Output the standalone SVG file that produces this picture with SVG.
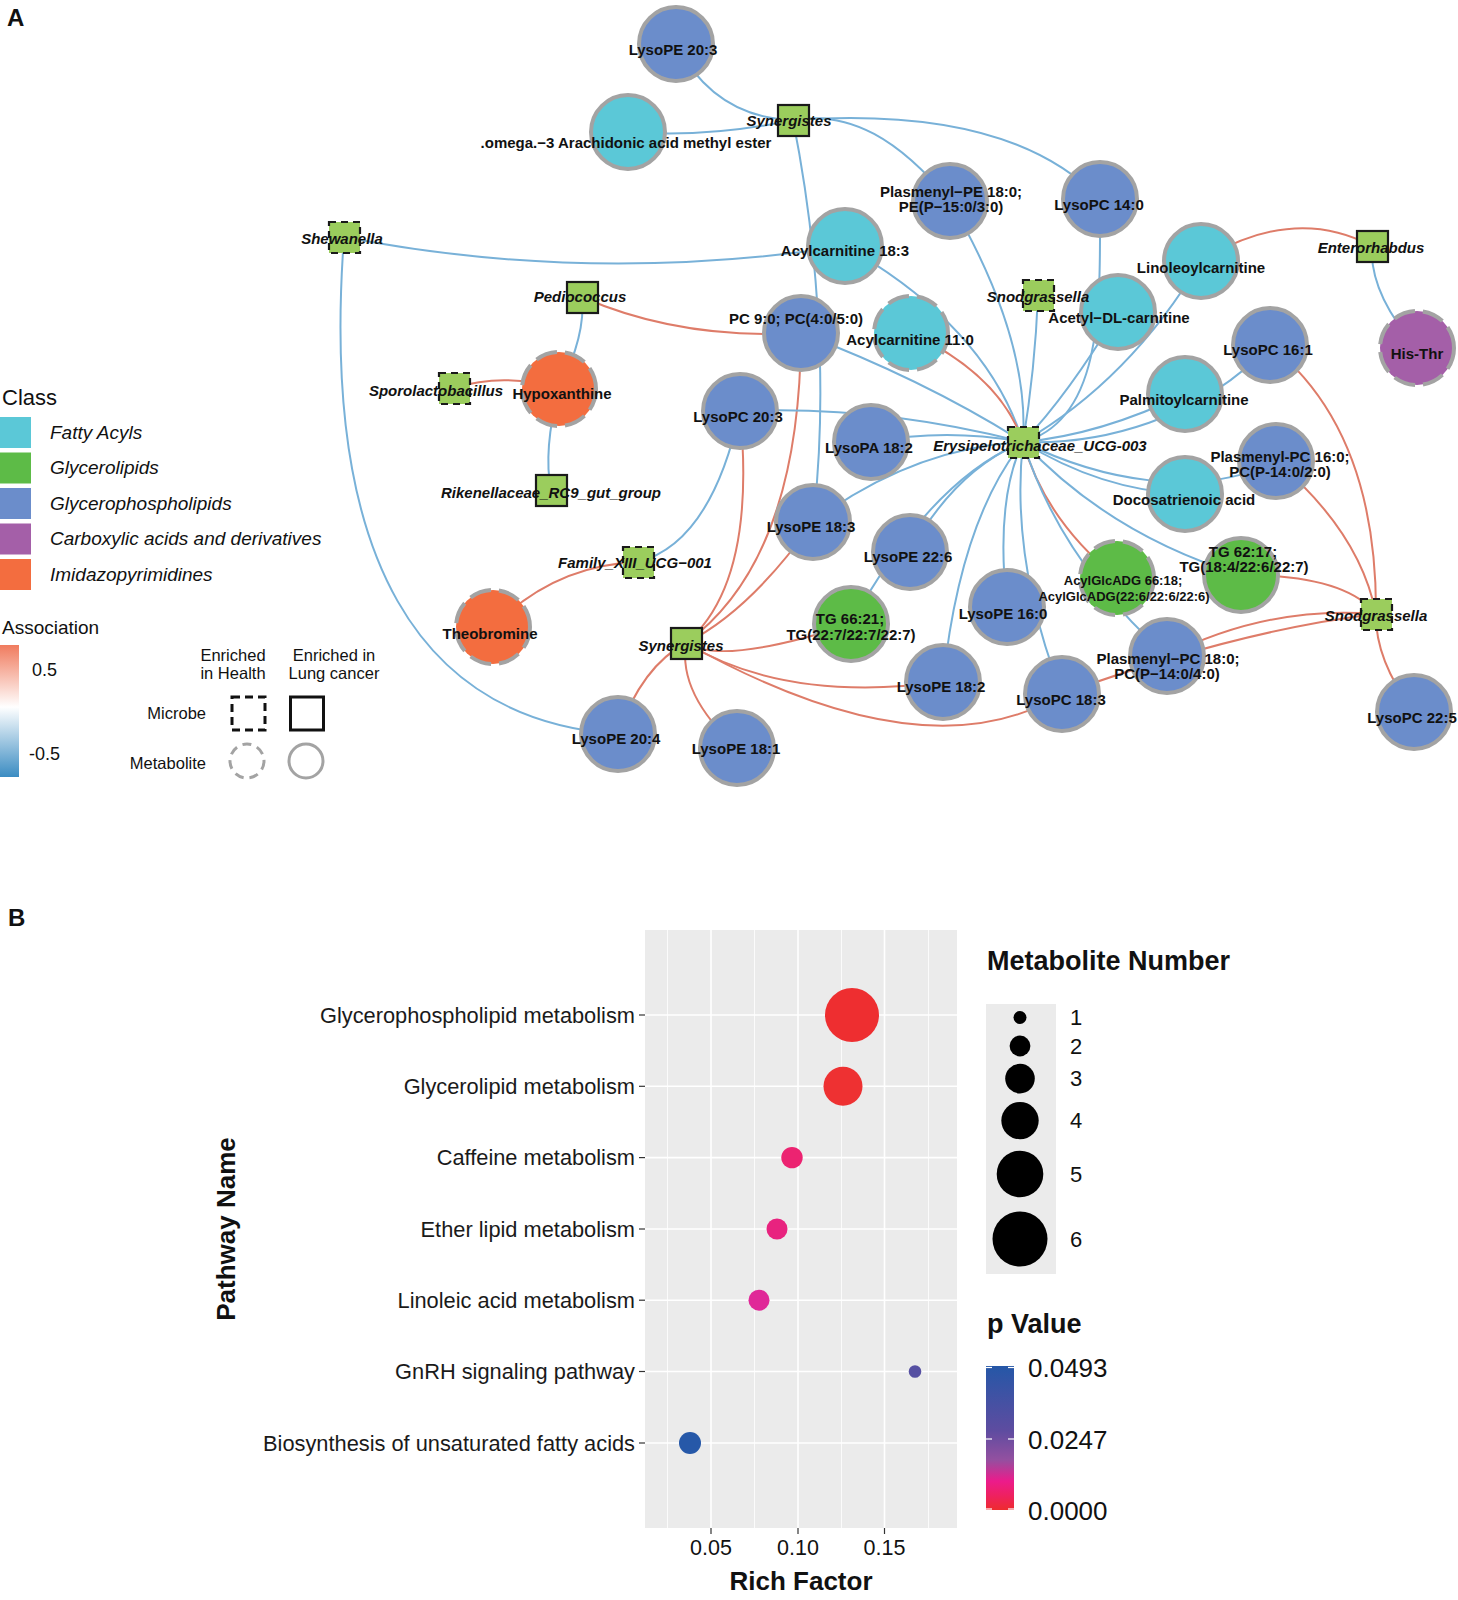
<svg xmlns="http://www.w3.org/2000/svg" width="1458" height="1600" viewBox="0 0 1458 1600">
<defs>
<style>
.eb{fill:none;stroke:#78B1D8;stroke-width:2}
.er{fill:none;stroke:#DE7C69;stroke-width:2}
.m{stroke:#A3A3A3;stroke-width:4}
.md{stroke-dasharray:22 8}
.fa{fill:#5BC8D7}.gl{fill:#5DBB47}.gp{fill:#6B8DCB}.ca{fill:#A45FA8}.im{fill:#F36D3F}
.mic{fill:#9BCD5D;stroke:#1a1a1a;stroke-width:2.2}
.micd{stroke-dasharray:7 5}
.lb{font-family:"Liberation Sans",Arial,sans-serif;font-weight:bold;font-size:15px;text-anchor:middle;fill:#111}
.li{font-style:italic}
.ls{font-size:13px}
.lg{font-family:"Liberation Sans",Arial,sans-serif;fill:#111}
.pl{font-family:"Liberation Sans",Arial,sans-serif;font-size:21.8px;fill:#1a1a1a;text-anchor:end}
.tk{stroke:#333;stroke-width:1.2}
.gmaj{stroke:#fff;stroke-width:1.6}
.gmin{stroke:#fff;stroke-width:0.8}
</style>
<linearGradient id="assoc" x1="0" y1="0" x2="0" y2="1">
<stop offset="0" stop-color="#F07B5E"/>
<stop offset="0.47" stop-color="#FFFFFF"/>
<stop offset="1" stop-color="#3B8CC2"/>
</linearGradient>
<linearGradient id="pval" x1="0" y1="0" x2="0" y2="1">
<stop offset="0" stop-color="#2557A7"/>
<stop offset="0.45" stop-color="#5E4CA0"/>
<stop offset="0.65" stop-color="#9350A0"/>
<stop offset="0.8" stop-color="#EC1B8B"/>
<stop offset="0.9" stop-color="#EE2160"/>
<stop offset="1" stop-color="#EE2B2E"/>
</linearGradient>
</defs>
<rect width="1458" height="1600" fill="#fff"/>
<text class="lg" x="7" y="26" font-size="24" font-weight="bold">A</text>

<g id="connectors">
<path class="eb" d="M676,44 Q715,118 793,120"/>
<path class="eb" d="M628,132 Q710,138 793,120"/>
<path class="eb" d="M793,120 C815,230 830,380 813,522"/>
<path class="eb" d="M793,120 C850,110 900,140 950,201"/>
<path class="eb" d="M793,120 Q1010,105 1100,199"/>
<path class="eb" d="M344,237 Q590,285 845,246"/>
<path class="eb" d="M344,237 C320,560 420,720 618,734"/>
<path class="eb" d="M582,297 Q586,335 559,389"/>
<path class="er" d="M582,297 Q680,340 801,333"/>
<path class="er" d="M454,388 Q505,372 559,389"/>
<path class="eb" d="M559,389 Q543,450 551,490"/>
<path class="eb" d="M638,562 Q711,543 740,411"/>
<path class="er" d="M638,562 Q554,565 493,627"/>
<path class="er" d="M686,643 Q757,583 740,411"/>
<path class="er" d="M686,643 Q800,560 801,333"/>
<path class="er" d="M686,643 Q750,611 813,522"/>
<path class="er" d="M686,643 Q722,666 851,624"/>
<path class="er" d="M686,643 Q785,703 943,682"/>
<path class="er" d="M686,643 Q926,777 1062,694"/>
<path class="er" d="M686,643 Q642,666 618,734"/>
<path class="er" d="M686,643 Q678,694 737,748"/>
<path class="eb" d="M950,201 Q1030,338 1023,442"/>
<path class="eb" d="M845,246 Q986,326 1023,442"/>
<path class="eb" d="M801,333 Q925,380 1023,442"/>
<path class="eb" d="M740,411 Q880,405 1023,442"/>
<path class="eb" d="M871,442 Q947,428 1023,442"/>
<path class="eb" d="M813,522 Q912,448 1023,442"/>
<path class="eb" d="M910,552 Q955,470 1023,442"/>
<path class="eb" d="M851,624 Q930,480 1023,442"/>
<path class="eb" d="M943,682 Q960,520 1023,442"/>
<path class="eb" d="M1007,607 Q995,500 1023,442"/>
<path class="eb" d="M1062,694 Q1010,560 1023,442"/>
<path class="er" d="M1023,442 Q1045,520 1117,578"/>
<path class="eb" d="M1023,442 Q1060,560 1167,656"/>
<path class="eb" d="M1023,442 Q1110,535 1241,575"/>
<path class="eb" d="M1023,442 Q1100,490 1185,494"/>
<path class="eb" d="M1023,442 C1100,480 1200,500 1276,461"/>
<path class="eb" d="M1023,442 Q1100,435 1185,394"/>
<path class="eb" d="M1023,442 C1100,445 1200,420 1270,345"/>
<path class="eb" d="M1023,442 Q1130,380 1201,261"/>
<path class="eb" d="M1023,442 Q1068,395 1118,312"/>
<path class="eb" d="M1023,442 C1105,420 1100,300 1100,199"/>
<path class="eb" d="M1023,442 Q1035,370 1038,295"/>
<path class="er" d="M911,333 Q1000,375 1023,442"/>
<path class="er" d="M1241,575 Q1345,575 1376,614"/>
<path class="er" d="M1167,656 Q1268,605 1376,614"/>
<path class="er" d="M1062,694 Q1240,630 1376,614"/>
<path class="er" d="M1376,614 Q1375,660 1414,712"/>
<path class="er" d="M1276,461 Q1360,532 1376,614"/>
<path class="er" d="M1270,345 Q1377,430 1376,614"/>
<path class="er" d="M1201,261 Q1293,204 1372,246"/>
<path class="eb" d="M1372,246 Q1369,293 1417,348"/>
</g>

<g id="n-lysope-20-3"><circle class="m gp" cx="676" cy="44" r="37"/><text class="lb" x="673" y="55">LysoPE 20:3</text></g>
<g id="n-omega3"><circle class="m fa" cx="628" cy="132" r="37"/><text class="lb" x="626" y="148">.omega.−3 Arachidonic acid methyl ester</text></g>
<g id="n-plasmenyl-pe"><circle class="m gp" cx="950" cy="201" r="37"/><text class="lb" x="951" y="197">Plasmenyl−PE 18:0;</text><text class="lb" x="951" y="212">PE(P−15:0/3:0)</text></g>
<g id="n-lysopc-14-0"><circle class="m gp" cx="1100" cy="199" r="37"/><text class="lb" x="1099" y="210">LysoPC 14:0</text></g>
<g id="n-acylcarnitine-18-3"><circle class="m fa" cx="845" cy="246" r="37"/><text class="lb" x="845" y="256">Acylcarnitine 18:3</text></g>
<g id="n-acetyl-dl-carnitine"><circle class="m fa" cx="1118" cy="312" r="37"/><text class="lb" x="1119" y="323">Acetyl−DL-carnitine</text></g>
<g id="n-linoleoylcarnitine"><circle class="m fa" cx="1201" cy="261" r="37"/><text class="lb" x="1201" y="273">Linoleoylcarnitine</text></g>
<g id="n-pc-9-0"><circle class="m gp" cx="801" cy="333" r="37"/><text class="lb" x="796" y="324">PC 9:0; PC(4:0/5:0)</text></g>
<g id="n-acylcarnitine-11-0"><circle class="m fa md" cx="911" cy="333" r="37"/><text class="lb" x="910" y="345">Acylcarnitine 11:0</text></g>
<g id="n-lysopc-16-1"><circle class="m gp" cx="1270" cy="345" r="37"/><text class="lb" x="1268" y="355">LysoPC 16:1</text></g>
<g id="n-his-thr"><circle class="m ca md" cx="1417" cy="348" r="37"/><text class="lb" x="1417" y="359">His-Thr</text></g>
<g id="n-hypoxanthine"><circle class="m im md" cx="559" cy="389" r="37"/><text class="lb" x="562" y="399">Hypoxanthine</text></g>
<g id="n-palmitoylcarnitine"><circle class="m fa" cx="1185" cy="394" r="37"/><text class="lb" x="1184" y="405">Palmitoylcarnitine</text></g>
<g id="n-lysopc-20-3"><circle class="m gp" cx="740" cy="411" r="37"/><text class="lb" x="738" y="422">LysoPC 20:3</text></g>
<g id="n-lysopa-18-2"><circle class="m gp" cx="871" cy="442" r="37"/><text class="lb" x="869" y="453">LysoPA 18:2</text></g>
<g id="n-plasmenyl-pc-16-0"><circle class="m gp" cx="1276" cy="461" r="37"/><text class="lb" x="1280" y="462">Plasmenyl-PC 16:0;</text><text class="lb" x="1280" y="477">PC(P-14:0/2:0)</text></g>
<g id="n-docosatrienoic"><circle class="m fa" cx="1185" cy="494" r="37"/><text class="lb" x="1184" y="505">Docosatrienoic acid</text></g>
<g id="n-lysope-18-3"><circle class="m gp" cx="813" cy="522" r="37"/><text class="lb" x="811" y="532">LysoPE 18:3</text></g>
<g id="n-lysope-22-6"><circle class="m gp" cx="910" cy="552" r="37"/><text class="lb" x="908" y="562">LysoPE 22:6</text></g>
<g id="n-tg-62-17"><circle class="m gl" cx="1241" cy="575" r="37"/><text class="lb" x="1243" y="557">TG 62:17;</text><text class="lb" x="1244" y="572">TG(18:4/22:6/22:7)</text></g>
<g id="n-lysope-16-0"><circle class="m gp" cx="1007" cy="607" r="37"/><text class="lb" x="1003" y="619">LysoPE 16:0</text></g>
<g id="n-acylglcadg"><circle class="m gl md" cx="1117" cy="578" r="37"/><text class="lb ls" x="1123" y="584.5">AcylGlcADG 66:18;</text><text class="lb ls" x="1124" y="600.5">AcylGlcADG(22:6/22:6/22:6)</text></g>
<g id="n-tg-66-21"><circle class="m gl" cx="851" cy="624" r="37"/><text class="lb" x="850" y="624">TG 66:21;</text><text class="lb" x="851" y="640">TG(22:7/22:7/22:7)</text></g>
<g id="n-theobromine"><circle class="m im md" cx="493" cy="627" r="37"/><text class="lb" x="490" y="639">Theobromine</text></g>
<g id="n-lysope-18-2"><circle class="m gp" cx="943" cy="682" r="37"/><text class="lb" x="941" y="692">LysoPE 18:2</text></g>
<g id="n-lysopc-18-3"><circle class="m gp" cx="1062" cy="694" r="37"/><text class="lb" x="1061" y="705">LysoPC 18:3</text></g>
<g id="n-plasmenyl-pc-18-0"><circle class="m gp" cx="1167" cy="656" r="37"/><text class="lb" x="1168" y="664">Plasmenyl−PC 18:0;</text><text class="lb" x="1167" y="679">PC(P−14:0/4:0)</text></g>
<g id="n-lysopc-22-5"><circle class="m gp" cx="1414" cy="712" r="37"/><text class="lb" x="1412" y="723">LysoPC 22:5</text></g>
<g id="n-lysope-20-4"><circle class="m gp" cx="618" cy="734" r="37"/><text class="lb" x="616" y="744">LysoPE 20:4</text></g>
<g id="n-lysope-18-1"><circle class="m gp" cx="737" cy="748" r="37"/><text class="lb" x="736" y="754">LysoPE 18:1</text></g>

<g id="n-synergistes-top"><rect class="mic" x="778" y="105" width="31" height="31"/><text class="lb li" x="789" y="126">Synergistes</text></g>
<g id="n-shewanella"><rect class="mic micd" x="329" y="222" width="31" height="31"/><text class="lb li" x="342" y="244">Shewanella</text></g>
<g id="n-pediococcus"><rect class="mic" x="567" y="282" width="31" height="31"/><text class="lb li" x="580" y="302">Pediococcus</text></g>
<g id="n-snodgrassella-top"><rect class="mic micd" x="1023" y="280" width="31" height="31"/><text class="lb li" x="1038" y="302">Snodgrassella</text></g>
<g id="n-enterorhabdus"><rect class="mic" x="1357" y="231" width="31" height="31"/><text class="lb li" x="1371" y="253">Enterorhabdus</text></g>
<g id="n-sporolactobacillus"><rect class="mic micd" x="439" y="373" width="31" height="31"/><text class="lb li" x="436" y="396">Sporolactobacillus</text></g>
<g id="n-erysipelotrichaceae"><rect class="mic micd" x="1008" y="427" width="31" height="31"/><text class="lb li" x="1040" y="451">Erysipelotrichaceae_UCG-003</text></g>
<g id="n-rikenellaceae"><rect class="mic" x="536" y="475" width="31" height="31"/><text class="lb li" x="551" y="498">Rikenellaceae_RC9_gut_group</text></g>
<g id="n-family-xiii"><rect class="mic micd" x="623" y="547" width="31" height="31"/><text class="lb li" x="635" y="568">Family_XIII_UCG−001</text></g>
<g id="n-synergistes-bottom"><rect class="mic" x="671" y="628" width="31" height="31"/><text class="lb li" x="681" y="651">Synergistes</text></g>
<g id="n-snodgrassella-bottom"><rect class="mic micd" x="1361" y="599" width="31" height="31"/><text class="lb li" x="1376" y="621">Snodgrassella</text></g>

<g id="legend-a">
<text class="lg" x="2" y="405" font-size="22">Class</text>
<rect x="0" y="417" width="31" height="31" fill="#5BC8D7"/>
<rect x="0" y="452.5" width="31" height="31" fill="#5DBB47"/>
<rect x="0" y="488" width="31" height="31" fill="#6B8DCB"/>
<rect x="0" y="523.5" width="31" height="31" fill="#A45FA8"/>
<rect x="0" y="559" width="31" height="31" fill="#F36D3F"/>
<g class="lg" font-size="19" font-style="italic">
<text x="50" y="439">Fatty Acyls</text>
<text x="50" y="474">Glycerolipids</text>
<text x="50" y="510">Glycerophospholipids</text>
<text x="50" y="545">Carboxylic acids and derivatives</text>
<text x="50" y="581">Imidazopyrimidines</text>
</g>
<text class="lg" x="2" y="634" font-size="19">Association</text>
<rect x="0" y="645" width="19" height="132" fill="url(#assoc)"/>
<text class="lg" x="32" y="675.5" font-size="18">0.5</text>
<text class="lg" x="29" y="759.5" font-size="18">-0.5</text>
<g class="lg" font-size="16.5" text-anchor="middle">
<text x="233" y="661">Enriched</text>
<text x="233" y="679">in Health</text>
<text x="334" y="661">Enriched in</text>
<text x="334" y="679">Lung cancer</text>
</g>
<text class="lg" x="206" y="719" font-size="16.5" text-anchor="end">Microbe</text>
<text class="lg" x="206" y="769" font-size="16.5" text-anchor="end">Metabolite</text>
<rect x="232" y="697" width="33" height="33" fill="none" stroke="#111" stroke-width="3" stroke-dasharray="8 5"/>
<rect x="290.5" y="697" width="33" height="33" fill="none" stroke="#111" stroke-width="3"/>
<circle cx="247" cy="761" r="17" fill="none" stroke="#A3A3A3" stroke-width="3" stroke-dasharray="9 6"/>
<circle cx="306" cy="761" r="17" fill="none" stroke="#A3A3A3" stroke-width="3"/>
</g>

<text class="lg" x="8" y="926" font-size="24" font-weight="bold">B</text>
<g id="panel-b">
<rect x="645" y="930" width="312" height="598" fill="#EBEBEB"/>
<line class="gmin" x1="667.5" y1="930" x2="667.5" y2="1528"/>
<line class="gmin" x1="754.5" y1="930" x2="754.5" y2="1528"/>
<line class="gmin" x1="841.5" y1="930" x2="841.5" y2="1528"/>
<line class="gmin" x1="928.5" y1="930" x2="928.5" y2="1528"/>
<line class="gmaj" x1="711" y1="930" x2="711" y2="1528"/>
<line class="gmaj" x1="798" y1="930" x2="798" y2="1528"/>
<line class="gmaj" x1="884.5" y1="930" x2="884.5" y2="1528"/>
<line class="gmaj" x1="645" y1="1015" x2="957" y2="1015"/>
<line class="gmaj" x1="645" y1="1086.3" x2="957" y2="1086.3"/>
<line class="gmaj" x1="645" y1="1157.6" x2="957" y2="1157.6"/>
<line class="gmaj" x1="645" y1="1229" x2="957" y2="1229"/>
<line class="gmaj" x1="645" y1="1300.2" x2="957" y2="1300.2"/>
<line class="gmaj" x1="645" y1="1371.5" x2="957" y2="1371.5"/>
<line class="gmaj" x1="645" y1="1443" x2="957" y2="1443"/>
<circle cx="852" cy="1015" r="27" fill="#EE2E30"/>
<circle cx="843" cy="1086.3" r="19.5" fill="#EE3132"/>
<circle cx="792" cy="1157.6" r="10.7" fill="#EC2371"/>
<circle cx="777" cy="1229" r="10.5" fill="#E8237F"/>
<circle cx="759" cy="1300.2" r="10.5" fill="#E02898"/>
<circle cx="915" cy="1371.5" r="6.3" fill="#5650A2"/>
<circle cx="690" cy="1443" r="11" fill="#2658A8"/>
<g class="tk">
<line x1="639" y1="1015" x2="645" y2="1015"/>
<line x1="639" y1="1086.3" x2="645" y2="1086.3"/>
<line x1="639" y1="1157.6" x2="645" y2="1157.6"/>
<line x1="639" y1="1229" x2="645" y2="1229"/>
<line x1="639" y1="1300.2" x2="645" y2="1300.2"/>
<line x1="639" y1="1371.5" x2="645" y2="1371.5"/>
<line x1="639" y1="1443" x2="645" y2="1443"/>
<line x1="711" y1="1528" x2="711" y2="1534"/>
<line x1="798" y1="1528" x2="798" y2="1534"/>
<line x1="884.5" y1="1528" x2="884.5" y2="1534"/>
</g>
<text class="pl" x="635" y="1022.5">Glycerophospholipid metabolism</text>
<text class="pl" x="635" y="1093.8">Glycerolipid metabolism</text>
<text class="pl" x="635" y="1165.1">Caffeine metabolism</text>
<text class="pl" x="635" y="1236.5">Ether lipid metabolism</text>
<text class="pl" x="635" y="1307.7">Linoleic acid metabolism</text>
<text class="pl" x="635" y="1379">GnRH signaling pathway</text>
<text class="pl" x="635" y="1450.5">Biosynthesis of unsaturated fatty acids</text>
<g class="lg" font-size="21.5" text-anchor="middle" fill="#1a1a1a">
<text x="711" y="1555">0.05</text>
<text x="798" y="1555">0.10</text>
<text x="884.5" y="1555">0.15</text>
</g>
<text class="lg" x="801" y="1590" font-size="26" font-weight="bold" text-anchor="middle">Rich Factor</text>
<text class="lg" transform="translate(235,1229) rotate(-90)" font-size="26" font-weight="bold" text-anchor="middle">Pathway Name</text>
</g>

<g id="legend-b">
<text class="lg" x="987" y="970" font-size="27" font-weight="bold">Metabolite Number</text>
<rect x="986" y="1004" width="70" height="270" fill="#EBEBEB"/>
<circle cx="1020" cy="1017.5" r="6.5" fill="#000"/>
<circle cx="1020" cy="1046" r="10.4" fill="#000"/>
<circle cx="1020" cy="1078.6" r="14.8" fill="#000"/>
<circle cx="1020" cy="1120.6" r="18.7" fill="#000"/>
<circle cx="1020" cy="1174" r="23.3" fill="#000"/>
<circle cx="1020" cy="1239" r="27.5" fill="#000"/>
<g class="lg" font-size="22">
<text x="1070" y="1025">1</text>
<text x="1070" y="1054">2</text>
<text x="1070" y="1086">3</text>
<text x="1070" y="1128">4</text>
<text x="1070" y="1182">5</text>
<text x="1070" y="1247">6</text>
</g>
<text class="lg" x="987" y="1333" font-size="27" font-weight="bold">p Value</text>
<rect x="986" y="1366" width="28" height="144" fill="url(#pval)"/>
<g stroke="#fff" stroke-width="1.2">
<line x1="986" y1="1367.5" x2="992" y2="1367.5"/><line x1="1008" y1="1367.5" x2="1014" y2="1367.5"/>
<line x1="986" y1="1439" x2="992" y2="1439"/><line x1="1008" y1="1439" x2="1014" y2="1439"/>
<line x1="986" y1="1509" x2="992" y2="1509"/><line x1="1008" y1="1509" x2="1014" y2="1509"/>
</g>
<g class="lg" font-size="26">
<text x="1028" y="1377">0.0493</text>
<text x="1028" y="1448.5">0.0247</text>
<text x="1028" y="1519.5">0.0000</text>
</g>
</g>
</svg>
